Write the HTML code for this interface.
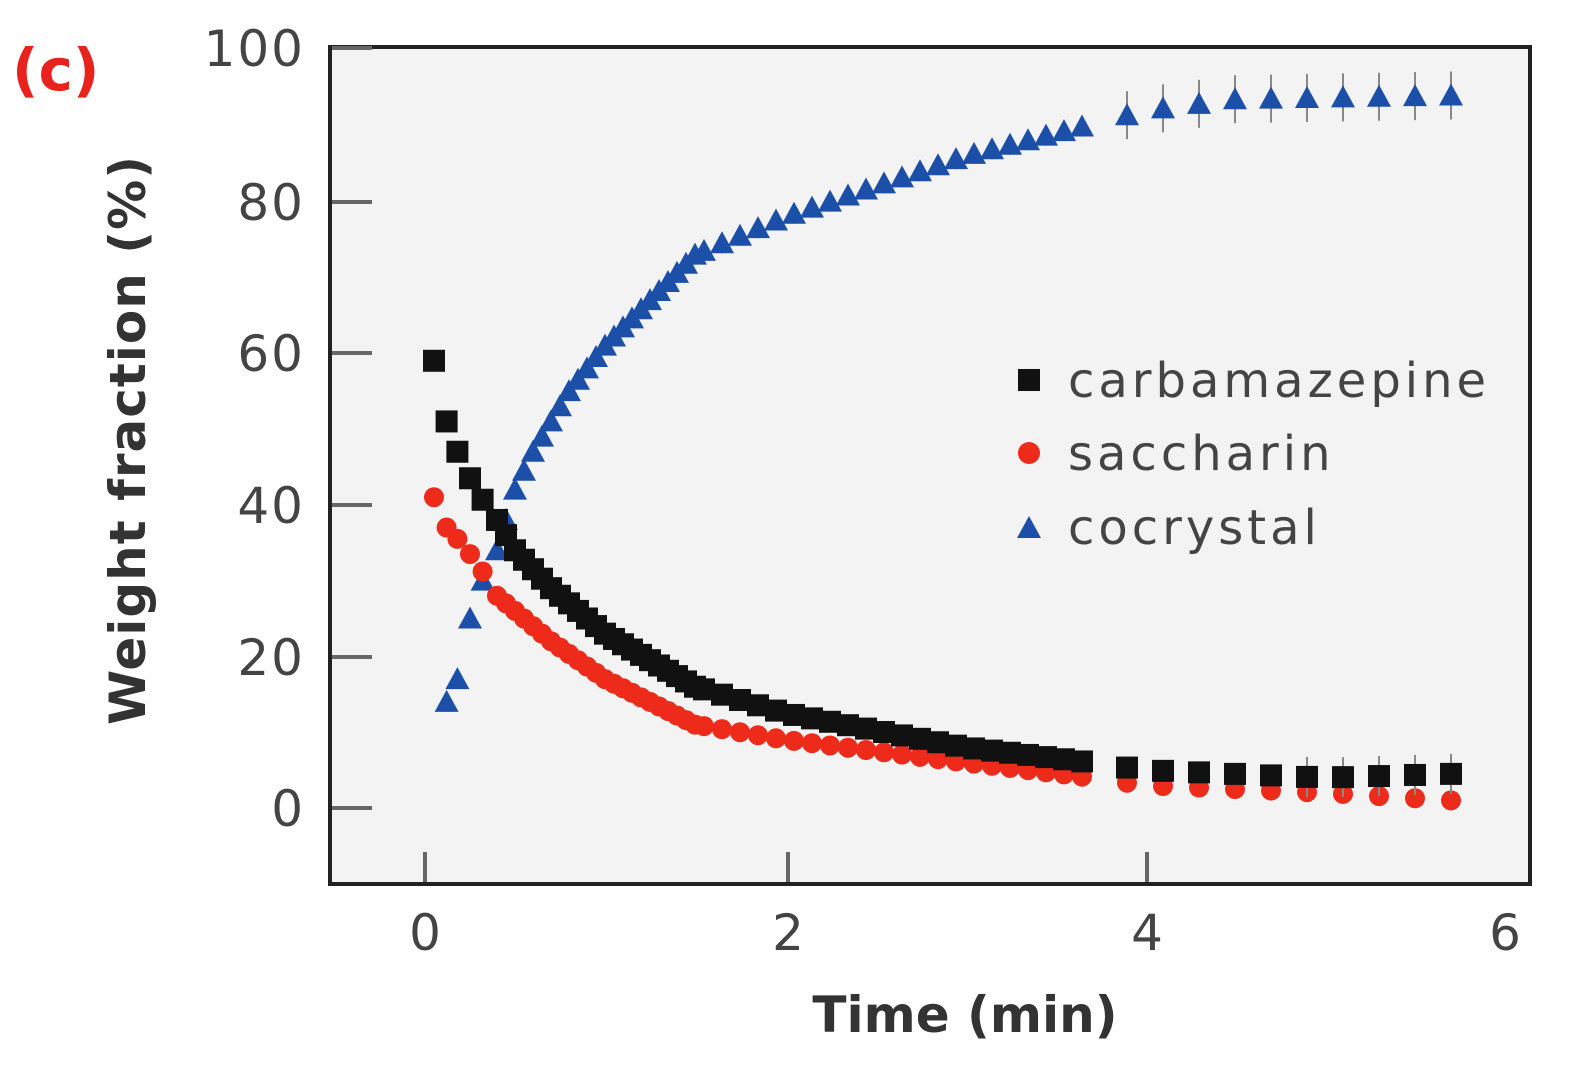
<!DOCTYPE html><html><head><style>
body{margin:0;background:#fff;width:1593px;height:1087px;overflow:hidden}
text{font-family:"DejaVu Sans","Liberation Sans",sans-serif}
</style></head><body>
<svg id="s" width="1593" height="1087" xmlns="http://www.w3.org/2000/svg">
<rect x="330" y="47" width="1200" height="837" fill="#f3f3f3" stroke="#222" stroke-width="4"/>
<g stroke="#666" stroke-width="4">
<line x1="332" y1="48" x2="372" y2="48"/><line x1="332" y1="202" x2="372" y2="202"/><line x1="332" y1="353" x2="372" y2="353"/><line x1="332" y1="505" x2="372" y2="505"/><line x1="332" y1="657" x2="372" y2="657"/><line x1="332" y1="808" x2="372" y2="808"/>
<line x1="425" y1="882" x2="425" y2="852"/><line x1="788" y1="882" x2="788" y2="852"/><line x1="1147" y1="882" x2="1147" y2="852"/>
</g>
<g font-size="50" fill="#444" text-anchor="end" letter-spacing="2">
<text x="305" y="66">100</text><text x="305" y="220">80</text><text x="305" y="371">60</text><text x="305" y="523">40</text><text x="305" y="675">20</text><text x="305" y="826">0</text>
</g>
<g font-size="50" fill="#444" text-anchor="middle">
<text x="425" y="950">0</text><text x="788" y="950">2</text><text x="1147" y="950">4</text><text x="1505" y="950">6</text>
</g>
<text x="965" y="1032" font-size="50" font-weight="bold" fill="#333" text-anchor="middle">Time (min)</text>
<text transform="translate(145,440) rotate(-90)" font-size="50" font-weight="bold" fill="#333" text-anchor="middle" letter-spacing="1">Weight fraction (%)</text>
<text x="12" y="90" font-size="58" font-weight="bold" fill="#e8231d">(c)</text>
<g font-size="48" fill="#444" letter-spacing="4">
<rect x="1018" y="369" width="22" height="22" fill="#111"/><text x="1068" y="397">carbamazepine</text>
<circle cx="1029" cy="453" r="11" fill="#ee2a1a"/><text x="1068" y="470">saccharin</text>
<polygon points="1029,516 1041,538 1017,538" fill="#1c4fa8"/><text x="1068" y="544">cocrystal</text>
</g>
<g id="d"></g>
</svg>
<script>
function interp(k,t){for(let i=0;i<k.length-1;i++){if(t<=k[i+1][0]){const a=k[i],b=k[i+1];return a[1]+(b[1]-a[1])*(t-a[0])/(b[0]-a[0]);}}return k[k.length-1][1];}
const co=[[0.08,12],[0.18,17],[0.25,25],[0.32,30],[0.4,34],[0.5,42],[0.6,47],[0.8,55],[1,61],[1.25,67],[1.5,73],[2,78],[2.5,82],[3,86],[3.5,89],[4,92],[4.5,93.5],[5.7,94]];
const cb=[[0.05,59],[0.12,51],[0.18,47],[0.28,42],[0.4,38],[0.5,34],[0.7,29],[1,23],[1.5,16],[2,12.5],[3,8],[3.7,6],[4,5],[5,4],[5.7,4.5]];
const sa=[[0.05,41],[0.12,37],[0.2,35],[0.3,32],[0.4,28],[0.5,26],[0.7,22],[1,17],[1.5,11],[2,9],[3,6],[3.7,4],[4,3],[5,2],[5.7,1]];
let ts=[0.05,0.12,0.18,0.25,0.32,0.4];for(let t=0.45;t<1.6;t+=0.05)ts.push(t);for(let t=1.65;t<3.72;t+=0.1)ts.push(t);for(let t=3.9;t<5.75;t+=0.2)ts.push(t);
const X=t=>425+t*180,Y=v=>808-v*7.58;let h='';
for(const t of ts){if(t<0.06)continue;const x=X(t),y=Y(interp(co,t));
if(t>1.4){const e=t>3.8?24:10;h+=`<line x1="${x}" y1="${y-e}" x2="${x}" y2="${y+e}" stroke="#888" stroke-width="2"/>`;}
h+=`<polygon points="${x},${y-12} ${x+12},${y+10} ${x-12},${y+10}" fill="#1c4fa8"/>`;}
for(const t of ts){h+=`<circle cx="${X(t)}" cy="${Y(interp(sa,t))}" r="10" fill="#ee2a1a"/>`;}
for(const t of ts){const x=X(t),y=Y(interp(cb,t));if(t>4.8)h+=`<line x1="${x}" y1="${y-20}" x2="${x}" y2="${y+20}" stroke="#888" stroke-width="2"/>`;h+=`<rect x="${x-11}" y="${y-11}" width="22" height="22" fill="#111"/>`;}
document.getElementById('d').innerHTML=h;
</script>
</body></html>
